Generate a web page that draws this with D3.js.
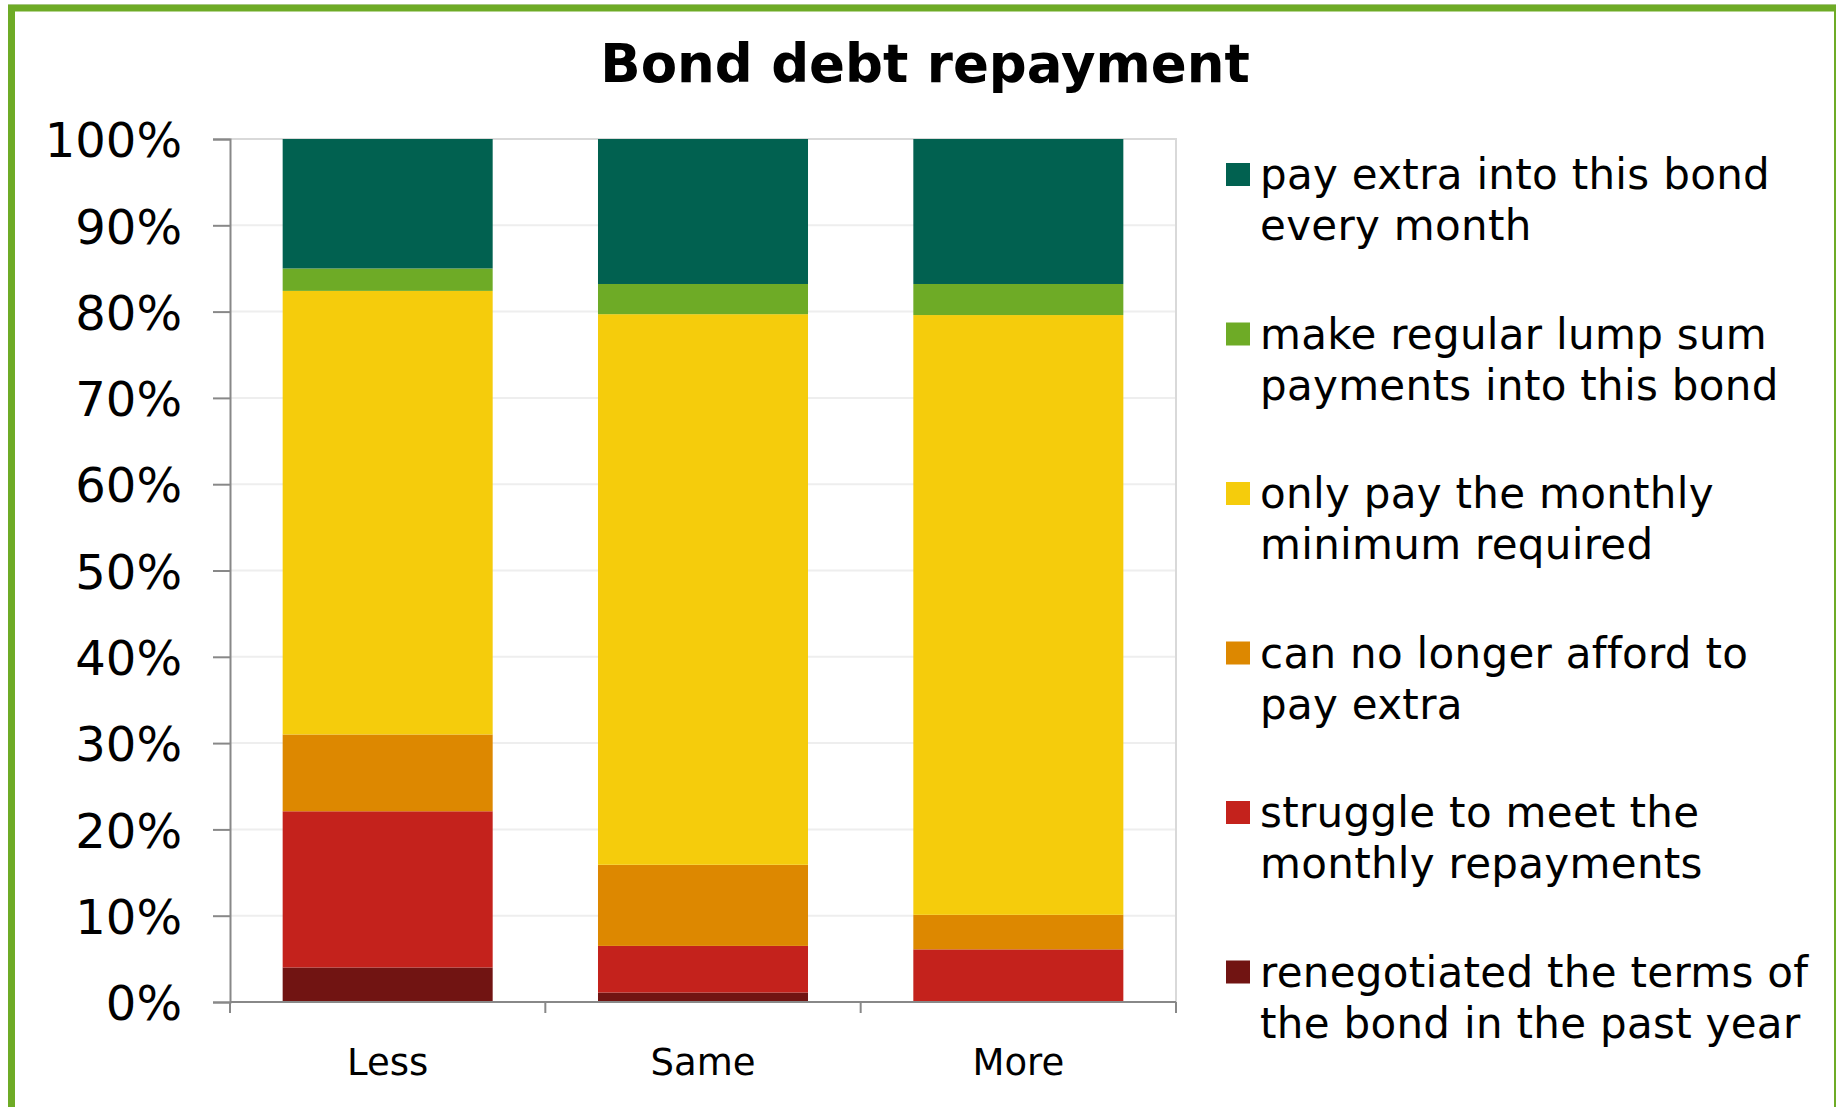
<!DOCTYPE html>
<html>
<head>
<meta charset="utf-8">
<title>Bond debt repayment</title>
<script src="https://cdn.jsdelivr.net/npm/d3@7"></script>
<style>
  html, body { margin: 0; padding: 0; background: #ffffff; }
  svg { display: block; }
  text { font-family: "DejaVu Sans", Verdana, sans-serif; fill: #000; }
</style>
</head>
<body>
<svg id="chart" width="1836" height="1107"></svg>
<script>
// Categories along the x axis
const categories = ["Less", "Same", "More"];

// Response series, listed bottom of stack first (percent of respondents)
const seriesKeys = ["reneg", "struggle", "afford", "minimum", "lump", "extra"];
const reneg    = [4.0, 1.1, 0.0];
const struggle = [18.1, 5.4, 6.1];
const afford   = [8.9, 9.4, 4.0];
const minimum  = [51.4, 63.8, 69.5];
const lump     = [2.6, 3.5, 3.6];
const extra    = [15.0, 16.8, 16.8];

const seriesColors = {
  reneg: "#711412",
  struggle: "#c4221c",
  afford: "#dd8800",
  minimum: "#f5cc0c",
  lump: "#6eab26",
  extra: "#016150"
};

// Legend entries, top to bottom (each wrapped onto two lines)
const legendKeys = ["extra", "lump", "minimum", "afford", "struggle", "reneg"];
const legendLines = [
  ["pay extra into this bond", "every month"],
  ["make regular lump sum", "payments into this bond"],
  ["only pay the monthly", "minimum required"],
  ["can no longer afford to", "pay extra"],
  ["struggle to meet the", "monthly repayments"],
  ["renegotiated the terms of", "the bond in the past year"]
];

const yTicks = [0, 10, 20, 30, 40, 50, 60, 70, 80, 90, 100];

// Build rows for d3.stack
const valuesByKey = { reneg, struggle, afford, minimum, lump, extra };
const rows = categories.map((c, i) => {
  const r = { category: c };
  seriesKeys.forEach(k => { r[k] = valuesByKey[k][i]; });
  return r;
});

const svg = d3.select("#chart");

// Outer green frame
svg.append("line")
  .attr("x1", 8).attr("x2", 1836).attr("y1", 4.5).attr("y2", 4.5)
  .attr("stroke", "#e2e2e2").attr("stroke-width", 1);
svg.append("rect")
  .attr("x", 11.5).attr("y", 8)
  .attr("width", 1826).attr("height", 1110)
  .attr("fill", "none")
  .attr("stroke", "#6eab26")
  .attr("stroke-width", 7);

// Title
svg.append("text")
  .attr("x", 925).attr("y", 82)
  .attr("text-anchor", "middle")
  .attr("font-size", 53)
  .attr("font-weight", "bold")
  .text("Bond debt repayment");

// Plot area
const plot = { left: 230, right: 1176, top: 139, bottom: 1002 };

const x = d3.scaleBand()
  .domain(categories)
  .range([plot.left, plot.right])
  .paddingInner(0.334)
  .paddingOuter(0.167);

const y = d3.scaleLinear()
  .domain([0, 100])
  .range([plot.bottom, plot.top]);

// Gridlines
svg.append("g")
  .selectAll("line")
  .data(yTicks.filter(t => t > 0 && t < 100))
  .join("line")
  .attr("x1", plot.left).attr("x2", plot.right)
  .attr("y1", d => y(d)).attr("y2", d => y(d))
  .attr("stroke", "#eeeeee").attr("stroke-width", 2);

// Plot border (top and right)
svg.append("path")
  .attr("d", `M${plot.left},${y(100)}H${plot.right}V${plot.bottom}`)
  .attr("fill", "none")
  .attr("stroke", "#d9d9d9")
  .attr("stroke-width", 2);

// Stacked bars
const stack = d3.stack().keys(seriesKeys);
const layers = stack(rows);

svg.append("g")
  .selectAll("g")
  .data(layers)
  .join("g")
  .attr("fill", d => seriesColors[d.key])
  .selectAll("rect")
  .data(d => d)
  .join("rect")
  .attr("x", d => x(d.data.category))
  .attr("width", x.bandwidth())
  .attr("y", d => y(d[1]))
  .attr("height", d => Math.max(0, y(d[0]) - y(d[1])));

// Y axis
const yAxis = d3.axisLeft(y)
  .tickValues(yTicks)
  .tickFormat(d => d + "%")
  .tickSize(17)
  .tickPadding(31);

const yG = svg.append("g")
  .attr("transform", `translate(${plot.left},0)`)
  .call(yAxis);
yG.select(".domain").attr("stroke", "#888888").attr("stroke-width", 2);
yG.selectAll(".tick line").attr("stroke", "#888888").attr("stroke-width", 2);
yG.selectAll(".tick text")
  .attr("font-size", 48)
  .attr("font-family", "'DejaVu Sans', Verdana, sans-serif")
  .attr("fill", "#000")
  .attr("dy", "0.37em");

// X axis baseline and category boundary ticks
const step = x.step();
const boundaries = d3.range(categories.length + 1).map(i => plot.left + i * step);

svg.append("line")
  .attr("x1", plot.left).attr("x2", plot.right)
  .attr("y1", plot.bottom).attr("y2", plot.bottom)
  .attr("stroke", "#888888").attr("stroke-width", 2);

svg.append("g")
  .selectAll("line")
  .data(boundaries)
  .join("line")
  .attr("x1", d => d).attr("x2", d => d)
  .attr("y1", plot.bottom).attr("y2", plot.bottom + 11)
  .attr("stroke", "#888888").attr("stroke-width", 2);

svg.append("g")
  .selectAll("text")
  .data(categories)
  .join("text")
  .attr("x", d => x(d) + x.bandwidth() / 2)
  .attr("y", 1075)
  .attr("text-anchor", "middle")
  .attr("font-size", 37)
  .text(d => d);

// Legend
const legend = svg.append("g");
const legendX = 1226, legendY0 = 189, legendGap = 159.5, lineH = 51;

const items = legend.selectAll("g")
  .data(legendKeys.map((k, i) => ({ key: k, lines: legendLines[i] })))
  .join("g")
  .attr("transform", (d, i) => `translate(${legendX},${legendY0 + i * legendGap})`);

items.append("rect")
  .attr("x", 0).attr("y", -26)
  .attr("width", 24).attr("height", 23)
  .attr("fill", d => seriesColors[d.key]);

items.append("text")
  .attr("font-size", 42)
  .attr("letter-spacing", 0.3)
  .selectAll("tspan")
  .data(d => d.lines)
  .join("tspan")
  .attr("x", 34)
  .attr("y", (d, i) => i * lineH)
  .text(d => d);
</script>
</body>
</html>
